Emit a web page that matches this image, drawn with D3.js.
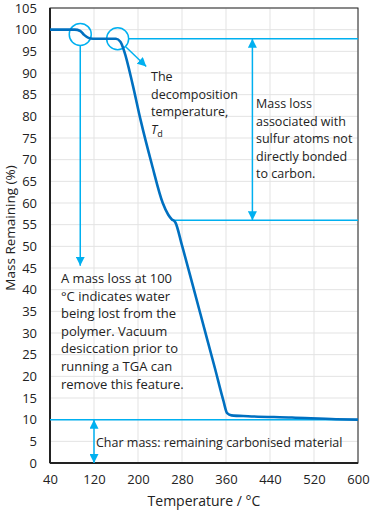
<!DOCTYPE html>
<html><head><meta charset="utf-8">
<script src="https://cdn.jsdelivr.net/npm/d3@7"></script>
<style>body{margin:0;background:#fff}svg{display:block}text{font-family:"Open Sans",sans-serif}</style>
</head><body><div id="c"></div>
<script>
const temps = [40, 85, 95, 102, 110, 118, 160, 168, 175, 190, 205, 225, 245, 255, 261, 268, 280, 300, 320, 340, 355, 362, 370, 400, 480, 560, 600];
const mass  = [100, 100, 99.7, 98.8, 98.1, 97.9, 97.9, 97.2, 95, 87.5, 79, 69, 60, 57.3, 56.3, 55.5, 50.2, 40.8, 31.3, 21.8, 14.5, 11.5, 11, 10.8, 10.5, 10.1, 10];
const xTicks = [40, 120, 200, 280, 360, 440, 520, 600];
const yTicks = [0, 5, 10, 15, 20, 25, 30, 35, 40, 45, 50, 55, 60, 65, 70, 75, 80, 85, 90, 95, 100, 105];
const waterLossT = 95, waterLossY = 98.9;
const tdT = 163, tdY = 97.9;
const plateauY = 97.9, midY = 56, charY = 10;
const noteWater = ["A mass loss at 100", "°C indicates water", "being lost from the", "polymer. Vacuum", "desiccation prior to", "running a TGA can", "remove this feature."];
const noteSulfur = ["Mass loss", "associated with", "sulfur atoms not", "directly bonded", "to carbon."];
const noteTd = ["The", "decomposition", "temperature,"];
const noteChar = "Char mass: remaining carbonised material";

const W = 373, H = 514;
const m = {l: 50, r: 15, t: 8, b: 51};
const svg = d3.select("#c").append("svg").attr("width", W).attr("height", H);
const x = d3.scaleLinear().domain([40, 600]).range([m.l, W - m.r]);
const y = d3.scaleLinear().domain([0, 105]).range([H - m.b, m.t]);
const AC = "#00B0F0", LC = "#0070C0";

const defs = svg.append("defs");
defs.append("marker").attr("id", "ah").attr("viewBox", "0 0 10 10").attr("refX", 10).attr("refY", 5)
  .attr("markerWidth", 9).attr("markerHeight", 9).attr("markerUnits", "userSpaceOnUse").attr("orient", "auto-start-reverse")
  .append("path").attr("d", "M0,0L10,5L0,10Z").attr("fill", AC);

// grid
const g = svg.append("g");
g.selectAll(".gx").data(xTicks).join("line").attr("x1", d => x(d)).attr("x2", d => x(d))
  .attr("y1", y(0)).attr("y2", y(105)).attr("stroke", "#e3e3e3").attr("stroke-width", 1);
g.selectAll(".gy").data(yTicks).join("line").attr("y1", d => y(d)).attr("y2", d => y(d))
  .attr("x1", x(40)).attr("x2", x(600)).attr("stroke", "#e3e3e3").attr("stroke-width", 1);

// axes
const xa = svg.append("g").attr("transform", `translate(0,${y(0)})`)
  .call(d3.axisBottom(x).tickValues(xTicks).tickSize(0).tickPadding(12));
const ya = svg.append("g").attr("transform", `translate(${x(40)},0)`)
  .call(d3.axisLeft(y).tickValues(yTicks).tickSize(0).tickPadding(13));
[xa, ya].forEach(a => { a.select(".domain").remove(); a.selectAll("text").attr("font-size", 13).attr("fill", "#222").attr("font-family", '"Open Sans",sans-serif'); });

// frame
svg.append("rect").attr("x", x(40)).attr("y", y(105)).attr("width", x(600) - x(40)).attr("height", y(0) - y(105))
  .attr("fill", "none").attr("stroke", "#222").attr("stroke-width", 1);
svg.append("line").attr("x1", x(40)).attr("x2", x(40)).attr("y1", y(105)).attr("y2", y(0)).attr("stroke", "#222").attr("stroke-width", 2);
svg.append("line").attr("x1", x(40)).attr("x2", x(600)).attr("y1", y(0)).attr("y2", y(0)).attr("stroke", "#222").attr("stroke-width", 2);

// axis titles
svg.append("text").attr("x", (x(40) + x(600)) / 2).attr("y", 506).attr("text-anchor", "middle")
  .attr("font-size", 14).attr("fill", "#222").text("Temperature / °C");
svg.append("text").attr("transform", `translate(10,228) rotate(-90)`).attr("text-anchor", "middle")
  .attr("dominant-baseline", "central").attr("font-size", 13.5).attr("fill", "#222").text("Mass Remaining (%)");

// annotation lines
const an = svg.append("g").attr("stroke", AC).attr("fill", "none").attr("stroke-width", 1.5);
an.append("line").attr("x1", x(tdT) + 11).attr("x2", x(600)).attr("y1", y(plateauY)).attr("y2", y(plateauY));
an.append("line").attr("x1", x(261)).attr("x2", x(600)).attr("y1", y(midY)).attr("y2", y(midY));
an.append("line").attr("x1", x(40)).attr("x2", x(600)).attr("y1", y(charY)).attr("y2", y(charY));

// curve
const line = d3.line().x((d, i) => x(temps[i])).y(d => y(d)).curve(d3.curveMonotoneX);
svg.append("path").datum(mass).attr("d", line).attr("fill", "none").attr("stroke", LC).attr("stroke-width", 2.6);

// circles
an.append("circle").attr("cx", x(waterLossT)).attr("cy", y(waterLossY)).attr("r", 11);
an.append("circle").attr("cx", x(tdT)).attr("cy", y(tdY)).attr("r", 11);

// arrows
an.append("line").attr("x1", x(waterLossT)).attr("x2", x(waterLossT)).attr("y1", y(waterLossY) + 11).attr("y2", y(45.5))
  .attr("marker-end", "url(#ah)");
an.append("line").attr("x1", x(tdT) + 8).attr("y1", y(tdY) + 8).attr("x2", x(215)).attr("y2", y(91.5))
  .attr("marker-end", "url(#ah)");
an.append("line").attr("x1", x(408)).attr("x2", x(408)).attr("y1", y(plateauY)).attr("y2", y(midY))
  .attr("marker-start", "url(#ah)").attr("marker-end", "url(#ah)");
an.append("line").attr("x1", x(120)).attr("x2", x(120)).attr("y1", y(charY)).attr("y2", y(0))
  .attr("marker-start", "url(#ah)").attr("marker-end", "url(#ah)");

// notes
const tg = svg.append("g").attr("font-size", 12.5).attr("fill", "#222");
tg.selectAll(".tw").data(noteWater).join("text").attr("x", 61).attr("y", (d, i) => 283 + i * 17.6).attr("font-size", 13).text(d => d);
tg.selectAll(".ts").data(noteSulfur).join("text").attr("x", 256).attr("y", (d, i) => 108 + i * 17.6).text(d => d);
tg.selectAll(".tt").data(noteTd).join("text").attr("x", 151).attr("y", (d, i) => 81 + i * 17.6).text(d => d);
const td = tg.append("text").attr("x", 151).attr("y", 81 + 3 * 17.6);
td.append("tspan").attr("font-style", "italic").text("T");
td.append("tspan").attr("font-size", 9).attr("dy", 3).text("d");
tg.append("text").attr("x", 96).attr("y", 447).text(noteChar);
</script></body></html>
